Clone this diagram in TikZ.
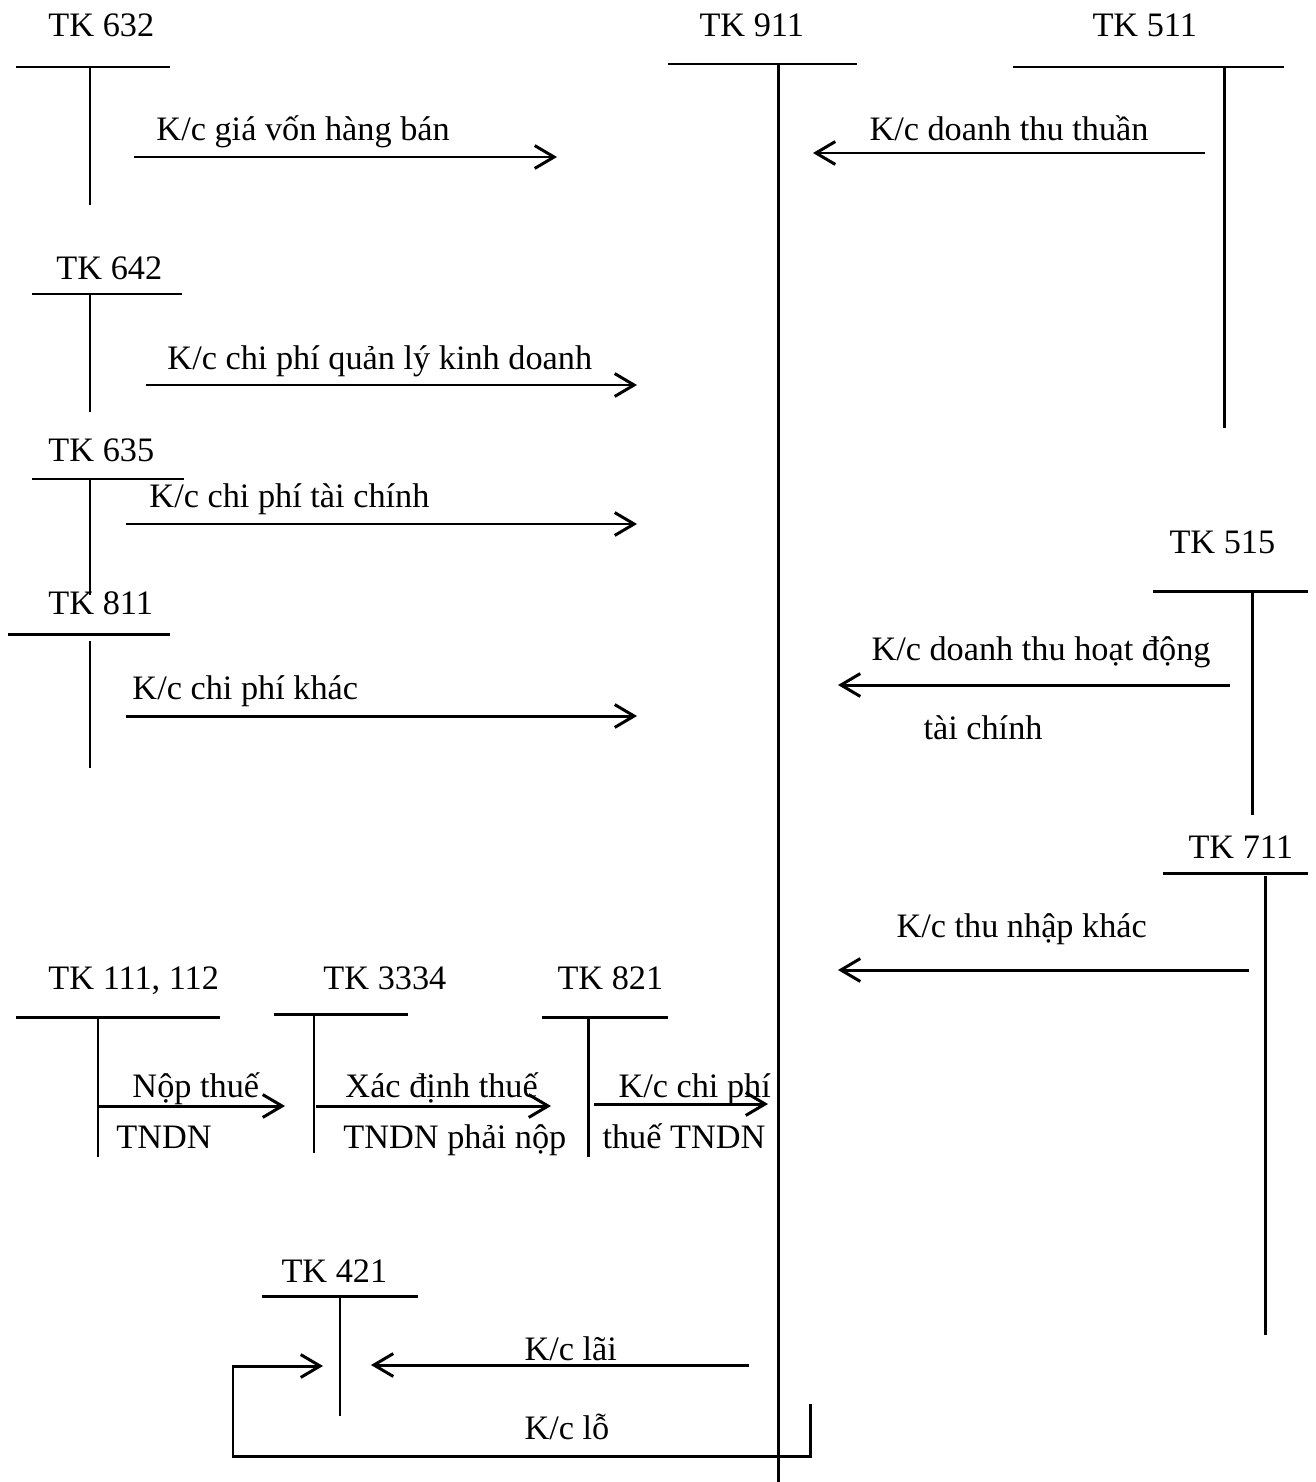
\documentclass[tikz,border=0pt]{standalone}
\usepackage{fontspec}
\setmainfont{Liberation Serif}
\usetikzlibrary{arrows.meta}
\begin{document}
\begin{tikzpicture}[x=0.01cm,y=-0.01cm, line width=0.85pt,
  lbl/.style={font=\fontsize{9.75}{12}\selectfont, inner sep=0pt, anchor=base west},
  arr/.style={-{Straight Barb[length=5.5pt,width=6.5pt]}},
  tline/.style={line width=0.85pt}
]
\useasboundingbox (0,0) rectangle (1316,1482);

% ---------- T accounts ----------
% TK 632
\node[lbl] (n632) at (47,37) {TK 632};
\coordinate (h632a) at (16,67); \coordinate (h632b) at (170,67);
\coordinate (v632a) at (90,67); \coordinate (v632b) at (90,205);
\draw[tline] (h632a) -- (h632b); \draw[tline] (v632a) -- (v632b);

% TK 911
\node[lbl] (n911) at (698,37) {TK 911};
\coordinate (h911a) at (668,64); \coordinate (h911b) at (857,64);
\coordinate (v911a) at (778,64); \coordinate (v911b) at (778,1482);
\draw[tline] (h911a) -- (h911b); \draw[tline] (v911a) -- (v911b);

% TK 511
\node[lbl] (n511) at (1091,37) {TK 511};
\coordinate (h511a) at (1013,67); \coordinate (h511b) at (1284,67);
\coordinate (v511a) at (1224,67); \coordinate (v511b) at (1224,428);
\draw[tline] (h511a) -- (h511b); \draw[tline] (v511a) -- (v511b);

% TK 642
\node[lbl] (n642) at (55,279) {TK 642};
\coordinate (h642a) at (32,294); \coordinate (h642b) at (182,294);
\coordinate (v642a) at (90,294); \coordinate (v642b) at (90,412);
\draw[tline] (h642a) -- (h642b); \draw[tline] (v642a) -- (v642b);

% TK 635
\node[lbl] (n635) at (47,461) {TK 635};
\coordinate (h635a) at (32,479); \coordinate (h635b) at (184,479);
\coordinate (v635a) at (90,479); \coordinate (v635b) at (90,595);
\draw[tline] (h635a) -- (h635b); \draw[tline] (v635a) -- (v635b);

% TK 811
\node[lbl] (n811) at (47,614) {TK 811};
\coordinate (h811a) at (8,634); \coordinate (h811b) at (170,634);
\coordinate (v811a) at (90,641); \coordinate (v811b) at (90,768);
\draw[tline] (h811a) -- (h811b); \draw[tline] (v811a) -- (v811b);

% TK 515
\node[lbl] (n515) at (1168,553) {TK 515};
\coordinate (h515a) at (1153,591); \coordinate (h515b) at (1308,591);
\coordinate (v515a) at (1252,591); \coordinate (v515b) at (1252,815);
\draw[tline] (h515a) -- (h515b); \draw[tline] (v515a) -- (v515b);

% TK 711
\node[lbl] (n711) at (1187,858) {TK 711};
\coordinate (h711a) at (1163,873); \coordinate (h711b) at (1308,873);
\coordinate (v711a) at (1265,876); \coordinate (v711b) at (1265,1335);
\draw[tline] (h711a) -- (h711b); \draw[tline] (v711a) -- (v711b);

% TK 111, 112
\node[lbl] (n111) at (47,989) {TK 111, 112};
\coordinate (h111a) at (16,1017); \coordinate (h111b) at (220,1017);
\coordinate (v111a) at (98,1017); \coordinate (v111b) at (98,1157);
\draw[tline] (h111a) -- (h111b); \draw[tline] (v111a) -- (v111b);

% TK 3334
\node[lbl] (n3334) at (322,989) {TK 3334};
\coordinate (h3334a) at (274,1014); \coordinate (h3334b) at (408,1014);
\coordinate (v3334a) at (314,1014); \coordinate (v3334b) at (314,1153);
\draw[tline] (h3334a) -- (h3334b); \draw[tline] (v3334a) -- (v3334b);

% TK 821
\node[lbl] (n821) at (556,989) {TK 821};
\coordinate (h821a) at (542,1017); \coordinate (h821b) at (668,1017);
\coordinate (v821a) at (588,1017); \coordinate (v821b) at (588,1157);
\draw[tline] (h821a) -- (h821b); \draw[tline] (v821a) -- (v821b);

% TK 421
\node[lbl] (n421) at (280,1282) {TK 421};
\coordinate (h421a) at (262,1296); \coordinate (h421b) at (418,1296);
\coordinate (v421a) at (340,1296); \coordinate (v421b) at (340,1416);
\draw[tline] (h421a) -- (h421b); \draw[tline] (v421a) -- (v421b);

% ---------- Arrows and labels ----------
\coordinate (a1s) at (134,157); \coordinate (a1e) at (557,157);
\draw[arr] (a1s) -- (a1e);
\node[lbl] (t1) at (155,140) {K/c giá vốn hàng bán};

\coordinate (a2s) at (1205,153); \coordinate (a2e) at (813,153);
\draw[arr] (a2s) -- (a2e);
\node[lbl] (t2) at (868,140) {K/c doanh thu thuần};

\coordinate (a3s) at (146,385); \coordinate (a3e) at (637,385);
\draw[arr] (a3s) -- (a3e);
\node[lbl] (t3) at (166,369) {K/c chi phí quản lý kinh doanh};

\coordinate (a4s) at (126,524); \coordinate (a4e) at (637,524);
\draw[arr] (a4s) -- (a4e);
\node[lbl] (t4) at (148,507) {K/c chi phí tài chính};

\coordinate (a5s) at (126,716); \coordinate (a5e) at (637,716);
\draw[arr] (a5s) -- (a5e);
\node[lbl] (t5) at (131,699) {K/c chi phí khác};

\coordinate (a6s) at (1230,685); \coordinate (a6e) at (838,685);
\draw[arr] (a6s) -- (a6e);
\node[lbl] (t6a) at (870,660) {K/c doanh thu hoạt động};
\node[lbl] (t6b) at (922,739) {tài chính};

\coordinate (a7s) at (1249,970); \coordinate (a7e) at (838,970);
\draw[arr] (a7s) -- (a7e);
\node[lbl] (t7) at (895,937) {K/c thu nhập khác};

\coordinate (a8s) at (98,1106); \coordinate (a8e) at (285,1106);
\draw[arr] (a8s) -- (a8e);
\node[lbl] (t8a) at (131,1097) {Nộp thuế};
\node[lbl] (t8b) at (115,1148) {TNDN};

\coordinate (a9s) at (316,1106); \coordinate (a9e) at (551,1106);
\draw[arr] (a9s) -- (a9e);
\node[lbl] (t9a) at (344,1097) {Xác định thuế};
\node[lbl] (t9b) at (342,1148) {TNDN phải nộp};

\coordinate (a10s) at (594,1104); \coordinate (a10e) at (768,1104);
\draw[arr] (a10s) -- (a10e);
\node[lbl] (t10a) at (617,1097) {K/c chi phí};
\node[lbl] (t10b) at (601,1148) {thuế TNDN};

\coordinate (a11s) at (749,1365); \coordinate (a11e) at (371,1365);
\draw[arr] (a11s) -- (a11e);
\node[lbl] (t11) at (523,1360) {K/c lãi};

\coordinate (l1) at (810,1404); \coordinate (l2) at (810,1456);
\coordinate (l3) at (233,1456); \coordinate (l4) at (233,1366);
\coordinate (l5) at (323,1366);
\draw[arr] (l1) -- (l2) -- (l3) -- (l4) -- (l5);
\node[lbl] (t12) at (523,1439) {K/c lỗ};
\end{tikzpicture}
\end{document}
